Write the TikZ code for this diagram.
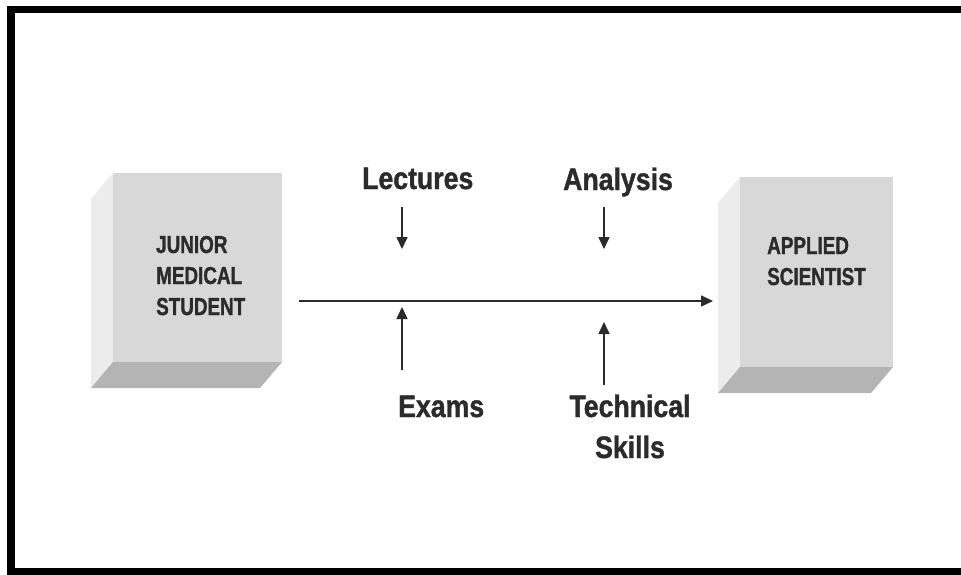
\documentclass[tikz,border=0pt]{standalone}
\usepackage{fontspec}
\newfontfamily\boxfont{Liberation Sans}[FakeStretch=0.77, BoldFeatures={FakeBold=1.2}]
\newfontfamily\labfont{Liberation Sans}[FakeStretch=0.86, BoldFeatures={FakeBold=1.2}]
\usetikzlibrary{arrows.meta}
\definecolor{ink}{HTML}{2B2B2B}
\definecolor{frontc}{HTML}{D8D8D8}
\definecolor{sidec}{HTML}{ECECEC}
\definecolor{botc}{HTML}{B4B4B4}
\tikzset{
  frontbox/.style={fill=frontc, draw=none, inner sep=0pt, anchor=north west},
  boxtext/.style={text=ink, inner sep=0pt, align=left, anchor=base west,
    font=\boxfont\bfseries\fontsize{24.5}{31}\selectfont},
  lab/.style={text=ink, inner sep=0pt, anchor=base west,
    font=\labfont\bfseries\fontsize{31}{41}\selectfont},
  arr/.style={draw=ink, line width=1.6pt, -{Triangle[length=12pt,width=11pt]}},
  frame/.style={fill=black}
}
\begin{document}
\begin{tikzpicture}[x=1pt,y=-1pt]
\useasboundingbox (0,0) rectangle (961,575);
\fill[white] (0,0) rectangle (961,575);
% frame
\fill[frame] (7,6) rectangle (961,13);
\fill[frame] (7,6) rectangle (15,575);
\fill[frame] (7,568) rectangle (961,575);
% left block
\fill[sidec] (113,173) -- (91,199) -- (91,388) -- (113,362) -- cycle;
\fill[botc] (113,362) -- (282,362) -- (260,388) -- (91,388) -- cycle;
\node[frontbox, minimum width=169pt, minimum height=189pt] (jr) at (113,173) {};
\node[boxtext] (jrt) at (156,315) {JUNIOR\\MEDICAL\\STUDENT};
% right block
\fill[sidec] (740,177) -- (718,203) -- (718,393) -- (740,367) -- cycle;
\fill[botc] (740,367) -- (893,367) -- (871,393) -- (718,393) -- cycle;
\node[frontbox, minimum width=153pt, minimum height=190pt] (as) at (740,177) {};
\node[boxtext] (ast) at (767,285) {APPLIED\\SCIENTIST};
% labels
\node[lab] (lec) at (362,189) {Lectures};
\node[lab] (ana) at (563,190) {Analysis};
\node[lab] (exa) at (398,417) {Exams};
\node[lab, anchor=base, align=center] (tec) at (630,458) {Technical\\Skills};
% arrow end points
\coordinate (m1) at (299,301);
\coordinate (m2) at (713,301);
\coordinate (l1) at (402,207);
\coordinate (l2) at (402,249);
\coordinate (a1) at (604,207);
\coordinate (a2) at (604,249);
\coordinate (e1) at (402,370);
\coordinate (e2) at (402,307);
\coordinate (t1) at (604,385);
\coordinate (t2) at (604,322);
\draw[arr] (m1) -- (m2);
\draw[arr] (l1) -- (l2);
\draw[arr] (a1) -- (a2);
\draw[arr] (e1) -- (e2);
\draw[arr] (t1) -- (t2);
\end{tikzpicture}
\end{document}
